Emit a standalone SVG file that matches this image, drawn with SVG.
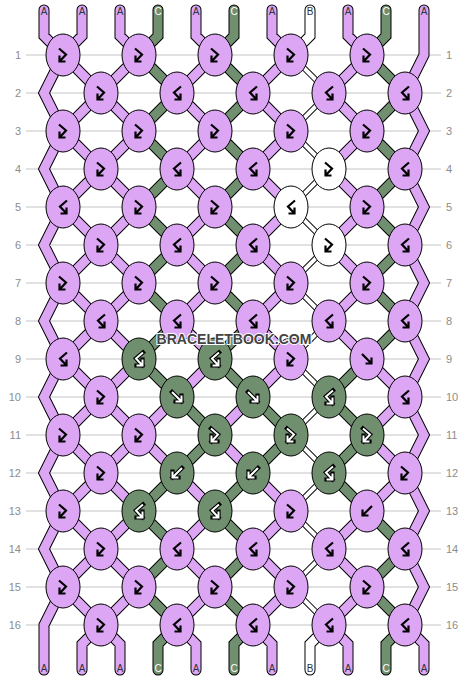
<svg xmlns="http://www.w3.org/2000/svg" xmlns:xlink="http://www.w3.org/1999/xlink" width="468" height="680" viewBox="0 0 468 680">
<style>
.grid line{stroke:#c4c4c4;stroke-width:1}
.rn{font-family:"Liberation Sans",Arial,sans-serif;font-size:11px;fill:#8c8c8c}
.ol{fill:none;stroke:#000;stroke-width:11;stroke-linecap:round;stroke-linejoin:miter}
.fl{fill:none;stroke-width:9;stroke-linecap:round;stroke-linejoin:miter}
.oln{fill:none;stroke:#000;stroke-width:6;stroke-linecap:round;stroke-linejoin:miter}
.fln{fill:none;stroke:#fff;stroke-width:4;stroke-linecap:round;stroke-linejoin:miter}
.sA{stroke:#dca6f4}
.sC{stroke:#6f8f6f}
.sB{stroke:#fff}
.kA{fill:#dca6f4;stroke:#000;stroke-width:1}
.kC{fill:#6f8f6f;stroke:#000;stroke-width:1}
.kB{fill:#fff;stroke:#000;stroke-width:1}
.ad{fill:none;stroke:#000;stroke-width:2.2;stroke-linejoin:miter;stroke-linecap:butt}
.ao{fill:none;stroke:#000;stroke-width:4.2;stroke-linejoin:miter;stroke-linecap:square}
.aw{fill:none;stroke:#fff;stroke-width:2;stroke-linejoin:miter;stroke-linecap:butt}
.lb{font-family:"Liberation Sans",Arial,sans-serif;font-size:10px;text-anchor:middle;fill:#333}
.lw{fill:#fff}
.wm{font-family:"Liberation Sans",Arial,sans-serif;font-size:14px;font-weight:bold;text-anchor:middle;fill:#444;stroke:#fff;stroke-width:2;paint-order:stroke}
</style>
<defs>
<path id="fb" d="M-4,-6.5 L3,-0.5 L-3.5,6.5 M-3.5,0.5 L-3.5,6.5 L2.5,6.5"/>
<path id="bf" d="M4,-6.5 L-3,-0.5 L3.5,6.5 M3.5,0.5 L3.5,6.5 L-2.5,6.5"/>
<path id="f" d="M-5,-5 L4.5,4.5 M4.5,-1.5 L4.5,4.5 L-1.5,4.5"/>
<path id="b" d="M5,-5 L-4.5,4.5 M-4.5,-1.5 L-4.5,4.5 L1.5,4.5"/>
<path id="pA" d="M44,10 L44,36 L63,55 L44,93 L63,131 L44,169 L63,207 L44,245 L63,283 L44,321 L63,359 L44,397 L63,435 L44,473 L63,511 L44,549 L63,587 L44,625 L44,670 M82,10 L82,36 L63,55 L101,93 L63,131 L101,169 L63,207 L101,245 L63,283 L101,321 L63,359 L101,397 L63,435 L101,473 L63,511 L101,549 L63,587 L101,625 L82,644 L82,670 M120,10 L120,36 L139,55 L101,93 L139,131 L101,169 L139,207 L101,245 L139,283 L101,321 L139,359 L101,397 L139,435 L101,473 L139,511 L101,549 L139,587 L101,625 L120,644 L120,670 M177,397 L139,435 L177,473 M196,10 L196,36 L215,55 L177,93 L215,131 L177,169 L215,207 L177,245 L215,283 L177,321 L215,359 L177,397 M177,473 L215,511 L177,549 L215,587 L177,625 L196,644 L196,670 M253,397 L215,435 L253,473 M272,10 L272,36 L291,55 L253,93 L291,131 L253,169 L291,207 L253,245 L291,283 L253,321 L291,359 L253,397 M253,473 L291,511 L253,549 L291,587 L253,625 L272,644 L272,670 M348,10 L348,36 L367,55 L329,93 L367,131 L329,169 L367,207 L329,245 L367,283 L329,321 L367,359 M367,511 L329,549 L367,587 L329,625 L348,644 L348,670 M367,359 L405,397 L367,435 L405,473 L367,511 M424,10 L424,55 L405,93 L424,131 L405,169 L424,207 L405,245 L424,283 L405,321 L424,359 L405,397 L424,435 L405,473 L424,511 L405,549 L424,587 L405,625 L424,644 L424,670"/>
<path id="pC" d="M158,10 L158,36 L139,55 L177,93 L139,131 L177,169 L139,207 L177,245 L139,283 L177,321 L139,359 L177,397 M177,473 L139,511 L177,549 L139,587 L177,625 L158,644 L158,670 M177,397 L215,435 L177,473 M234,10 L234,36 L215,55 L253,93 L215,131 L253,169 L215,207 L253,245 L215,283 L253,321 L215,359 L253,397 M253,473 L215,511 L253,549 L215,587 L253,625 L234,644 L234,670 M253,397 L291,435 L253,473 M367,359 L329,397 L367,435 L329,473 L367,511 M386,10 L386,36 L367,55 L405,93 L367,131 L405,169 L367,207 L405,245 L367,283 L405,321 L367,359 M367,511 L405,549 L367,587 L405,625 L386,644 L386,670"/>
<path id="pBs" d="M310,10 L310,36 L291,55 M329,625 L310,644 L310,670"/>
<path id="pBd" d="M291,55 L329,93 L291,131 L329,169 L291,207 L329,245 L291,283 L329,321 L291,359 L329,397 L291,435 L329,473 L291,511 L329,549 L291,587 L329,625"/>
</defs>
<rect width="468" height="680" fill="#fff"/>
<g class="grid">
<line x1="26" y1="55" x2="441" y2="55"/><line x1="26" y1="93" x2="441" y2="93"/><line x1="26" y1="131" x2="441" y2="131"/><line x1="26" y1="169" x2="441" y2="169"/><line x1="26" y1="207" x2="441" y2="207"/><line x1="26" y1="245" x2="441" y2="245"/><line x1="26" y1="283" x2="441" y2="283"/><line x1="26" y1="321" x2="441" y2="321"/><line x1="26" y1="359" x2="441" y2="359"/><line x1="26" y1="397" x2="441" y2="397"/><line x1="26" y1="435" x2="441" y2="435"/><line x1="26" y1="473" x2="441" y2="473"/><line x1="26" y1="511" x2="441" y2="511"/><line x1="26" y1="549" x2="441" y2="549"/><line x1="26" y1="587" x2="441" y2="587"/><line x1="26" y1="625" x2="441" y2="625"/>
</g>
<g class="rn" text-anchor="end">
<text x="21" y="59">1</text><text x="21" y="97">2</text><text x="21" y="135">3</text><text x="21" y="173">4</text><text x="21" y="211">5</text><text x="21" y="249">6</text><text x="21" y="287">7</text><text x="21" y="325">8</text><text x="21" y="363">9</text><text x="21" y="401">10</text><text x="21" y="439">11</text><text x="21" y="477">12</text><text x="21" y="515">13</text><text x="21" y="553">14</text><text x="21" y="591">15</text><text x="21" y="629">16</text>
</g>
<g class="rn" text-anchor="start">
<text x="446" y="59">1</text><text x="446" y="97">2</text><text x="446" y="135">3</text><text x="446" y="173">4</text><text x="446" y="211">5</text><text x="446" y="249">6</text><text x="446" y="287">7</text><text x="446" y="325">8</text><text x="446" y="363">9</text><text x="446" y="401">10</text><text x="446" y="439">11</text><text x="446" y="477">12</text><text x="446" y="515">13</text><text x="446" y="553">14</text><text x="446" y="591">15</text><text x="446" y="629">16</text>
</g>
<g id="connectors">
<use href="#pA" class="ol"/><use href="#pC" class="ol"/><use href="#pBs" class="ol"/><use href="#pBd" class="oln"/>
<use href="#pA" class="fl sA"/><use href="#pC" class="fl sC"/><use href="#pBs" class="fl sB"/><use href="#pBd" class="fln"/>
</g>
<g id="knots">
<g id="k1-1"><ellipse class="kA" cx="63" cy="55" rx="17" ry="21"/><use href="#fb" x="63" y="55" class="ad"/></g>
<g id="k1-2"><ellipse class="kA" cx="139" cy="55" rx="17" ry="21"/><use href="#fb" x="139" y="55" class="ad"/></g>
<g id="k1-3"><ellipse class="kA" cx="215" cy="55" rx="17" ry="21"/><use href="#fb" x="215" y="55" class="ad"/></g>
<g id="k1-4"><ellipse class="kA" cx="291" cy="55" rx="17" ry="21"/><use href="#fb" x="291" y="55" class="ad"/></g>
<g id="k1-5"><ellipse class="kA" cx="367" cy="55" rx="17" ry="21"/><use href="#fb" x="367" y="55" class="ad"/></g>
<g id="k2-1"><ellipse class="kA" cx="101" cy="93" rx="17" ry="21"/><use href="#fb" x="101" y="93" class="ad"/></g>
<g id="k2-2"><ellipse class="kA" cx="177" cy="93" rx="17" ry="21"/><use href="#bf" x="177" y="93" class="ad"/></g>
<g id="k2-3"><ellipse class="kA" cx="253" cy="93" rx="17" ry="21"/><use href="#bf" x="253" y="93" class="ad"/></g>
<g id="k2-4"><ellipse class="kA" cx="329" cy="93" rx="17" ry="21"/><use href="#bf" x="329" y="93" class="ad"/></g>
<g id="k2-5"><ellipse class="kA" cx="405" cy="93" rx="17" ry="21"/><use href="#bf" x="405" y="93" class="ad"/></g>
<g id="k3-1"><ellipse class="kA" cx="63" cy="131" rx="17" ry="21"/><use href="#fb" x="63" y="131" class="ad"/></g>
<g id="k3-2"><ellipse class="kA" cx="139" cy="131" rx="17" ry="21"/><use href="#fb" x="139" y="131" class="ad"/></g>
<g id="k3-3"><ellipse class="kA" cx="215" cy="131" rx="17" ry="21"/><use href="#fb" x="215" y="131" class="ad"/></g>
<g id="k3-4"><ellipse class="kA" cx="291" cy="131" rx="17" ry="21"/><use href="#fb" x="291" y="131" class="ad"/></g>
<g id="k3-5"><ellipse class="kA" cx="367" cy="131" rx="17" ry="21"/><use href="#fb" x="367" y="131" class="ad"/></g>
<g id="k4-1"><ellipse class="kA" cx="101" cy="169" rx="17" ry="21"/><use href="#fb" x="101" y="169" class="ad"/></g>
<g id="k4-2"><ellipse class="kA" cx="177" cy="169" rx="17" ry="21"/><use href="#bf" x="177" y="169" class="ad"/></g>
<g id="k4-3"><ellipse class="kA" cx="253" cy="169" rx="17" ry="21"/><use href="#bf" x="253" y="169" class="ad"/></g>
<g id="k4-4"><ellipse class="kB" cx="329" cy="169" rx="17" ry="21"/><use href="#fb" x="329" y="169" class="ad"/></g>
<g id="k4-5"><ellipse class="kA" cx="405" cy="169" rx="17" ry="21"/><use href="#bf" x="405" y="169" class="ad"/></g>
<g id="k5-1"><ellipse class="kA" cx="63" cy="207" rx="17" ry="21"/><use href="#bf" x="63" y="207" class="ad"/></g>
<g id="k5-2"><ellipse class="kA" cx="139" cy="207" rx="17" ry="21"/><use href="#fb" x="139" y="207" class="ad"/></g>
<g id="k5-3"><ellipse class="kA" cx="215" cy="207" rx="17" ry="21"/><use href="#fb" x="215" y="207" class="ad"/></g>
<g id="k5-4"><ellipse class="kB" cx="291" cy="207" rx="17" ry="21"/><use href="#bf" x="291" y="207" class="ad"/></g>
<g id="k5-5"><ellipse class="kA" cx="367" cy="207" rx="17" ry="21"/><use href="#fb" x="367" y="207" class="ad"/></g>
<g id="k6-1"><ellipse class="kA" cx="101" cy="245" rx="17" ry="21"/><use href="#fb" x="101" y="245" class="ad"/></g>
<g id="k6-2"><ellipse class="kA" cx="177" cy="245" rx="17" ry="21"/><use href="#bf" x="177" y="245" class="ad"/></g>
<g id="k6-3"><ellipse class="kA" cx="253" cy="245" rx="17" ry="21"/><use href="#bf" x="253" y="245" class="ad"/></g>
<g id="k6-4"><ellipse class="kB" cx="329" cy="245" rx="17" ry="21"/><use href="#fb" x="329" y="245" class="ad"/></g>
<g id="k6-5"><ellipse class="kA" cx="405" cy="245" rx="17" ry="21"/><use href="#bf" x="405" y="245" class="ad"/></g>
<g id="k7-1"><ellipse class="kA" cx="63" cy="283" rx="17" ry="21"/><use href="#fb" x="63" y="283" class="ad"/></g>
<g id="k7-2"><ellipse class="kA" cx="139" cy="283" rx="17" ry="21"/><use href="#fb" x="139" y="283" class="ad"/></g>
<g id="k7-3"><ellipse class="kA" cx="215" cy="283" rx="17" ry="21"/><use href="#fb" x="215" y="283" class="ad"/></g>
<g id="k7-4"><ellipse class="kA" cx="291" cy="283" rx="17" ry="21"/><use href="#fb" x="291" y="283" class="ad"/></g>
<g id="k7-5"><ellipse class="kA" cx="367" cy="283" rx="17" ry="21"/><use href="#fb" x="367" y="283" class="ad"/></g>
<g id="k8-1"><ellipse class="kA" cx="101" cy="321" rx="17" ry="21"/><use href="#bf" x="101" y="321" class="ad"/></g>
<g id="k8-2"><ellipse class="kA" cx="177" cy="321" rx="17" ry="21"/><use href="#bf" x="177" y="321" class="ad"/></g>
<g id="k8-3"><ellipse class="kA" cx="253" cy="321" rx="17" ry="21"/><use href="#bf" x="253" y="321" class="ad"/></g>
<g id="k8-4"><ellipse class="kA" cx="329" cy="321" rx="17" ry="21"/><use href="#bf" x="329" y="321" class="ad"/></g>
<g id="k8-5"><ellipse class="kA" cx="405" cy="321" rx="17" ry="21"/><use href="#bf" x="405" y="321" class="ad"/></g>
<g id="k9-1"><ellipse class="kA" cx="63" cy="359" rx="17" ry="21"/><use href="#bf" x="63" y="359" class="ad"/></g>
<g id="k9-2"><ellipse class="kC" cx="139" cy="359" rx="17" ry="21"/><use href="#bf" x="139" y="359" class="ao"/><use href="#bf" x="139" y="359" class="aw"/></g>
<g id="k9-3"><ellipse class="kC" cx="215" cy="359" rx="17" ry="21"/><use href="#bf" x="215" y="359" class="ao"/><use href="#bf" x="215" y="359" class="aw"/></g>
<g id="k9-4"><ellipse class="kA" cx="291" cy="359" rx="17" ry="21"/><use href="#fb" x="291" y="359" class="ad"/></g>
<g id="k9-5"><ellipse class="kA" cx="367" cy="359" rx="17" ry="21"/><use href="#f" x="367" y="359" class="ad"/></g>
<g id="k10-1"><ellipse class="kA" cx="101" cy="397" rx="17" ry="21"/><use href="#fb" x="101" y="397" class="ad"/></g>
<g id="k10-2"><ellipse class="kC" cx="177" cy="397" rx="17" ry="21"/><use href="#f" x="177" y="397" class="ao"/><use href="#f" x="177" y="397" class="aw"/></g>
<g id="k10-3"><ellipse class="kC" cx="253" cy="397" rx="17" ry="21"/><use href="#f" x="253" y="397" class="ao"/><use href="#f" x="253" y="397" class="aw"/></g>
<g id="k10-4"><ellipse class="kC" cx="329" cy="397" rx="17" ry="21"/><use href="#bf" x="329" y="397" class="ao"/><use href="#bf" x="329" y="397" class="aw"/></g>
<g id="k10-5"><ellipse class="kA" cx="405" cy="397" rx="17" ry="21"/><use href="#bf" x="405" y="397" class="ad"/></g>
<g id="k11-1"><ellipse class="kA" cx="63" cy="435" rx="17" ry="21"/><use href="#fb" x="63" y="435" class="ad"/></g>
<g id="k11-2"><ellipse class="kA" cx="139" cy="435" rx="17" ry="21"/><use href="#fb" x="139" y="435" class="ad"/></g>
<g id="k11-3"><ellipse class="kC" cx="215" cy="435" rx="17" ry="21"/><use href="#fb" x="215" y="435" class="ao"/><use href="#fb" x="215" y="435" class="aw"/></g>
<g id="k11-4"><ellipse class="kC" cx="291" cy="435" rx="17" ry="21"/><use href="#fb" x="291" y="435" class="ao"/><use href="#fb" x="291" y="435" class="aw"/></g>
<g id="k11-5"><ellipse class="kC" cx="367" cy="435" rx="17" ry="21"/><use href="#fb" x="367" y="435" class="ao"/><use href="#fb" x="367" y="435" class="aw"/></g>
<g id="k12-1"><ellipse class="kA" cx="101" cy="473" rx="17" ry="21"/><use href="#fb" x="101" y="473" class="ad"/></g>
<g id="k12-2"><ellipse class="kC" cx="177" cy="473" rx="17" ry="21"/><use href="#b" x="177" y="473" class="ao"/><use href="#b" x="177" y="473" class="aw"/></g>
<g id="k12-3"><ellipse class="kC" cx="253" cy="473" rx="17" ry="21"/><use href="#b" x="253" y="473" class="ao"/><use href="#b" x="253" y="473" class="aw"/></g>
<g id="k12-4"><ellipse class="kC" cx="329" cy="473" rx="17" ry="21"/><use href="#bf" x="329" y="473" class="ao"/><use href="#bf" x="329" y="473" class="aw"/></g>
<g id="k12-5"><ellipse class="kA" cx="405" cy="473" rx="17" ry="21"/><use href="#fb" x="405" y="473" class="ad"/></g>
<g id="k13-1"><ellipse class="kA" cx="63" cy="511" rx="17" ry="21"/><use href="#fb" x="63" y="511" class="ad"/></g>
<g id="k13-2"><ellipse class="kC" cx="139" cy="511" rx="17" ry="21"/><use href="#bf" x="139" y="511" class="ao"/><use href="#bf" x="139" y="511" class="aw"/></g>
<g id="k13-3"><ellipse class="kC" cx="215" cy="511" rx="17" ry="21"/><use href="#bf" x="215" y="511" class="ao"/><use href="#bf" x="215" y="511" class="aw"/></g>
<g id="k13-4"><ellipse class="kA" cx="291" cy="511" rx="17" ry="21"/><use href="#fb" x="291" y="511" class="ad"/></g>
<g id="k13-5"><ellipse class="kA" cx="367" cy="511" rx="17" ry="21"/><use href="#b" x="367" y="511" class="ad"/></g>
<g id="k14-1"><ellipse class="kA" cx="101" cy="549" rx="17" ry="21"/><use href="#fb" x="101" y="549" class="ad"/></g>
<g id="k14-2"><ellipse class="kA" cx="177" cy="549" rx="17" ry="21"/><use href="#bf" x="177" y="549" class="ad"/></g>
<g id="k14-3"><ellipse class="kA" cx="253" cy="549" rx="17" ry="21"/><use href="#bf" x="253" y="549" class="ad"/></g>
<g id="k14-4"><ellipse class="kA" cx="329" cy="549" rx="17" ry="21"/><use href="#bf" x="329" y="549" class="ad"/></g>
<g id="k14-5"><ellipse class="kA" cx="405" cy="549" rx="17" ry="21"/><use href="#bf" x="405" y="549" class="ad"/></g>
<g id="k15-1"><ellipse class="kA" cx="63" cy="587" rx="17" ry="21"/><use href="#fb" x="63" y="587" class="ad"/></g>
<g id="k15-2"><ellipse class="kA" cx="139" cy="587" rx="17" ry="21"/><use href="#fb" x="139" y="587" class="ad"/></g>
<g id="k15-3"><ellipse class="kA" cx="215" cy="587" rx="17" ry="21"/><use href="#fb" x="215" y="587" class="ad"/></g>
<g id="k15-4"><ellipse class="kA" cx="291" cy="587" rx="17" ry="21"/><use href="#fb" x="291" y="587" class="ad"/></g>
<g id="k15-5"><ellipse class="kA" cx="367" cy="587" rx="17" ry="21"/><use href="#fb" x="367" y="587" class="ad"/></g>
<g id="k16-1"><ellipse class="kA" cx="101" cy="625" rx="17" ry="21"/><use href="#fb" x="101" y="625" class="ad"/></g>
<g id="k16-2"><ellipse class="kA" cx="177" cy="625" rx="17" ry="21"/><use href="#bf" x="177" y="625" class="ad"/></g>
<g id="k16-3"><ellipse class="kA" cx="253" cy="625" rx="17" ry="21"/><use href="#bf" x="253" y="625" class="ad"/></g>
<g id="k16-4"><ellipse class="kA" cx="329" cy="625" rx="17" ry="21"/><use href="#bf" x="329" y="625" class="ad"/></g>
<g id="k16-5"><ellipse class="kA" cx="405" cy="625" rx="17" ry="21"/><use href="#bf" x="405" y="625" class="ad"/></g>
</g>
<g id="labels" class="lb">
<text x="44" y="15">A</text><text x="82" y="15">A</text><text x="120" y="15">A</text><text x="158" y="15" class="lw">C</text><text x="196" y="15">A</text><text x="234" y="15" class="lw">C</text><text x="272" y="15">A</text><text x="310" y="15">B</text><text x="348" y="15">A</text><text x="386" y="15" class="lw">C</text><text x="424" y="15">A</text>
<text x="44" y="672">A</text><text x="82" y="672">A</text><text x="120" y="672">A</text><text x="158" y="672" class="lw">C</text><text x="196" y="672">A</text><text x="234" y="672" class="lw">C</text><text x="272" y="672">A</text><text x="310" y="672">B</text><text x="348" y="672">A</text><text x="386" y="672" class="lw">C</text><text x="424" y="672">A</text>
</g>
<text class="wm" x="234" y="344">BRACELETBOOK.COM</text>
</svg>
